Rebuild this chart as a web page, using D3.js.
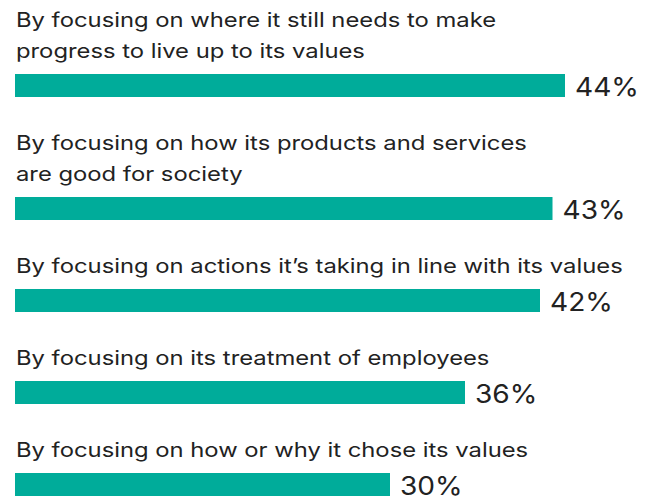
<!DOCTYPE html>
<html>
<head>
<meta charset="utf-8">
<script src="https://cdn.jsdelivr.net/npm/d3@7"></script>
<style>
  html, body { margin: 0; padding: 0; background: #ffffff; }
  svg { display: block; }
</style>
</head>
<body>
<svg id="chart" width="652" height="497"></svg>
<script>
// Answers, one per bar; line breaks mark where each label wraps
const categories = [
  "By focusing on where it still needs to make\nprogress to live up to its values",
  "By focusing on how its products and services\nare good for society",
  "By focusing on actions it\u2019s taking in line with its values",
  "By focusing on its treatment of employees",
  "By focusing on how or why it chose its values"
];
const values = [44, 43, 42, 36, 30];
const valueLabels = ["44%", "43%", "42%", "36%", "30%"];

const barColor = "#00ac9a";
const textColor = "#222222";
const fontFamily = "Inter, 'Noto Sans', sans-serif";
const labelStretch = 1.19;  // wide grotesque look for the answer text
const valueStretch = 1.08;

const lineHeight = 31;   // spacing between wrapped label lines
const barHeight = 23;
const rowGap = 92;       // bar top to next bar top for a one-line label
const labelToBar = 16;   // last label baseline to bar top
const firstBarTop = 74;

const x = d3.scaleLinear().domain([0, 50]).range([15, 640]);

// Stack rows vertically, letting multi-line labels push later rows down
const rows = [];
let barTop = firstBarTop;
categories.forEach((c, i) => {
  const lines = c.split("\n");
  if (i > 0) barTop += rowGap + lineHeight * (lines.length - 1);
  rows.push({ lines, value: values[i], label: valueLabels[i], top: barTop });
});

const svg = d3.select("#chart");

const g = svg.selectAll("g.row")
  .data(rows)
  .join("g")
  .attr("class", "row");

g.append("text")
  .attr("class", "cat")
  .attr("transform", `translate(${x(0) + 1},0) scale(${labelStretch},1)`)
  .attr("font-family", fontFamily)
  .attr("font-size", 20)
  .attr("fill", textColor)
  .selectAll("tspan")
  .data(d => d.lines.map((t, j) => ({ t, y: d.top - labelToBar - lineHeight * (d.lines.length - 1 - j) })))
  .join("tspan")
  .attr("x", 0)
  .attr("y", d => d.y)
  .text(d => d.t);

g.append("rect")
  .attr("x", x(0))
  .attr("y", d => d.top)
  .attr("width", d => x(d.value) - x(0))
  .attr("height", barHeight)
  .attr("fill", barColor);

g.append("text")
  .attr("transform", d => `translate(${x(d.value) + 10},${d.top + 22}) scale(${valueStretch},1)`)
  .attr("font-family", fontFamily)
  .attr("font-size", 26)
  .attr("fill", textColor)
  .text(d => d.label);
</script>
</body>
</html>
